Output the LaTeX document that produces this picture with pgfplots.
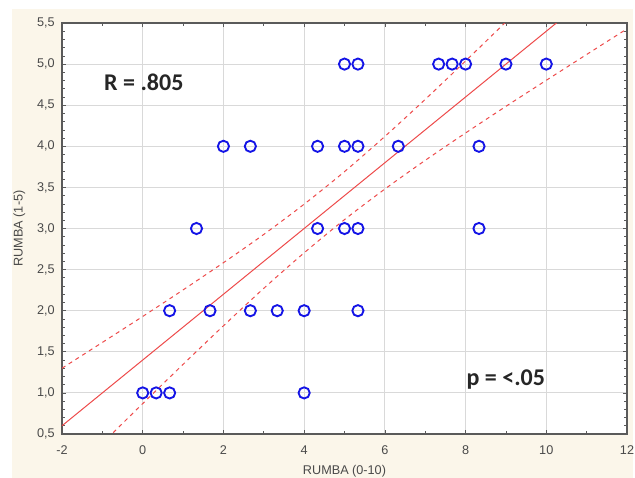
\documentclass[border=0pt]{standalone}
\usepackage{fontspec}
\setmainfont{Liberation Sans}
\newfontfamily\calibri{Carlito}
\usepackage{pgfplots}
\pgfplotsset{compat=1.18}
\definecolor{cream}{HTML}{FBF6EA}
\definecolor{ptblue}{HTML}{1414E6}
\definecolor{fitred}{HTML}{EE4A4A}
\definecolor{gridc}{HTML}{D9D9D9}
\definecolor{framec}{HTML}{5A5A5A}
\definecolor{labc}{HTML}{4A4A4A}

\begin{document}
\begin{tikzpicture}
% 1 px of the reference = 0.75pt
\useasboundingbox (-46.5pt,-33pt) rectangle (429.75pt,325.5pt);
\fill[cream] (-37.5pt,-33pt) rectangle (428.25pt,318.75pt);
\begin{axis}[
  at={(0,0)}, anchor=south west,
  width=423.75pt, height=308.25pt, scale only axis,
  xmin=-2, xmax=12, ymin=0.5, ymax=5.5,
  xtick={-2,0,...,12}, minor xtick={-1,1,...,11},
  ytick={0.5,1,...,5.5}, minor y tick num=4,
  axis background/.style={fill=white},
  major grid style={gridc, line width=0.8pt},
  xmajorgrids, ymajorgrids,
  axis line style={framec, line width=0.9pt},
  tick align=inside, tick style={framec, line width=0.5pt},
  major tick length=3pt, minor tick length=2pt,
  tick label style={font=\fontsize{9.5}{11}\selectfont, text=labc},
  /pgf/number format/assume math mode=true,
  yticklabel style={xshift=-2pt, /pgf/number format/.cd, fixed, fixed zerofill, precision=1, use comma},
  xticklabel style={yshift=-5pt, /pgf/number format/.cd, fixed, precision=0},
  xlabel={RUMBA (0-10)}, ylabel={RUMBA (1-5)},
  label style={font=\fontsize{9.5}{11}\selectfont, text=labc},
  xlabel style={yshift=-1pt},
  ylabel style={yshift=2pt},
  clip=true]
% fitted line and 95% band
\addplot[fitred, line width=0.75pt] coordinates {(-2,0.6) (12,6.2)};
\addplot[fitred, line width=0.75pt, dash pattern=on 3pt off 3pt, smooth] coordinates {
  (-2,1.300) (-1,1.614) (0,1.930) (1,2.253) (2,2.584) (3,2.928) (4,3.296) (5,3.692)
  (6,4.120) (7,4.571) (8,5.038) (9,5.514) (10,5.997) (11,6.483) (12,6.971)};
\addplot[fitred, line width=0.75pt, dash pattern=on 3pt off 3pt, smooth] coordinates {
  (-2,-0.100) (-1,0.386) (0,0.870) (1,1.347) (2,1.816) (3,2.272) (4,2.704) (5,3.108)
  (6,3.480) (7,3.829) (8,4.162) (9,4.486) (10,4.803) (11,5.117) (12,5.429)};
% observations
\addplot[only marks, mark=o, mark size=4.2pt, mark options={ptblue, line width=1.4pt}] coordinates {
  (0,1) (0.333,1) (0.667,1) (4,1)
  (0.667,2) (1.667,2) (2.667,2) (3.333,2) (4,2) (5.333,2)
  (1.333,3) (4.333,3) (5,3) (5.333,3) (8.333,3)
  (2,4) (2.667,4) (4.333,4) (5,4) (5.333,4) (6.333,4) (8.333,4)
  (5,5) (5.333,5) (7.333,5) (7.667,5) (8,5) (9,5) (10,5)};
\node[anchor=west, font=\calibri\bfseries\fontsize{18}{21}\selectfont, text=black!85, inner sep=0pt] at (axis cs:-0.96,4.78) {R = .805};
\node[anchor=west, font=\calibri\bfseries\fontsize{18}{21}\selectfont, text=black!85, inner sep=0pt] at (axis cs:8.02,1.16) {p = <.05};
\end{axis}
\end{tikzpicture}
\end{document}
